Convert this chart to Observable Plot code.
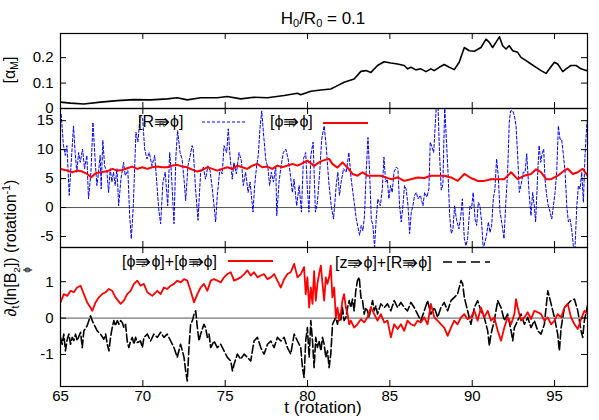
<!DOCTYPE html>
<html><head><meta charset="utf-8">
<script src="https://cdn.jsdelivr.net/npm/d3@7"></script>
<script src="https://cdn.jsdelivr.net/npm/@observablehq/plot@0.6"></script>
<style>
body{margin:0;background:#fff;}
#fig{position:relative;width:599px;height:420px;font-family:"Liberation Sans",Arial,sans-serif;color:#000;overflow:hidden;background:#fff}
#fig svg.panel{position:absolute;left:0;overflow:visible}
.lbl{position:absolute;white-space:nowrap;line-height:1}
.rot{transform:translate(-50%,-50%) rotate(-90deg)}
.ar{position:relative;display:inline-block;font-size:1.2em;line-height:1;vertical-align:-0.05em}
.sb{position:absolute;left:0;right:0;text-align:center;top:0.92em;font-size:9px;line-height:1;color:#333}
.key{position:absolute}
.ss{display:inline-flex;flex-direction:column;font-size:0.62em;line-height:1;vertical-align:-0.45em}
.sup{font-size:0.65em;vertical-align:0.55em}
.sub{font-size:0.65em;vertical-align:-0.3em}
</style></head><body><div id="fig"></div>
<script>
// ---------- data ----------
const xTicks = [65, 70, 75, 80, 85, 90, 95];
const yTicks1 = [0, 0.1, 0.2];
const yTicks2 = [-5, 0, 5, 10, 15];
const yTicks3 = [-1, 0, 1];

// panel 1: alpha_M
const alphaM = [
[65.00,0.025],[65.61,0.021],[66.42,0.018],[67.43,0.025],[68.45,0.031],[69.46,0.035],[70.47,0.034],[71.49,0.038],[72.09,0.042],[72.70,0.034],[73.51,0.042],[74.53,0.042],[75.13,0.047],[75.94,0.038],[76.75,0.044],[77.57,0.042],[78.58,0.051],[79.39,0.060],
[79.59,0.054],[80.20,0.068],[80.81,0.073],[81.41,0.077],[81.82,0.090],[82.22,0.103],[82.83,0.116],[83.24,0.146],[83.54,0.149],[83.85,0.142],[84.25,0.169],[84.65,0.184],[85.06,0.179],[85.47,0.175],[85.87,0.169],[86.08,0.156],[86.28,0.162],[86.58,0.152],[86.88,0.156],[87.19,0.145],[87.49,0.156],[87.69,0.149],[88.00,0.162],[88.30,0.173],[88.61,0.162],[88.91,0.153],[89.21,0.182],[89.52,0.240],[89.82,0.227],[90.13,0.225],[90.53,0.240],[90.84,0.273],[91.04,0.260],[91.24,0.240],[91.44,0.260],[91.65,0.282],[91.85,0.247],[92.05,0.234],[92.25,0.247],[92.46,0.227],[92.76,0.221],[92.96,0.201],[93.27,0.188],[93.57,0.175],[93.88,0.162],[94.18,0.149],[94.48,0.138],[94.69,0.156],[94.99,0.182],[95.19,0.175],[95.50,0.145],[95.70,0.156],[96.00,0.169],[96.31,0.169],[96.61,0.156],[96.91,0.149],[97.00,0.151]
];

// panel 2: [R =>_R phi] (blue dashed)
const rToPhiR = [
[65.04,16.1],[65.18,10.7],[65.29,9.0],[65.39,10.7],[65.53,2.1],[65.65,7.8],[65.79,14.1],[65.89,9.5],[65.99,6.1],[66.10,9.5],[66.20,7.8],[66.34,10.1],[66.46,6.7],[66.60,9.0],[66.70,1.5],[66.85,6.1],[66.97,14.7],[67.11,7.8],[67.21,3.8],[67.31,6.1],[67.41,9.0],[67.47,3.2],[67.57,11.6],[67.68,7.2],[67.82,6.1],[67.92,2.6],[68.02,6.7],[68.12,4.4],[68.22,6.1],[68.32,3.8],[68.43,6.7],[68.53,0.3],[68.67,4.9],[68.83,7.8],[68.93,5.5],[69.09,6.4],[69.20,-1.4],[69.30,-5.4],[69.42,0.3],[69.58,13.0],[69.70,11.3],[69.84,15.9],[69.99,15.3],[70.11,10.1],[70.25,8.4],[70.39,9.5],[70.55,7.2],[70.72,9.0],[70.86,3.8],[70.96,-0.2],[71.08,-2.8],[71.22,4.4],[71.36,6.1],[71.51,0.3],[71.63,9.5],[71.73,6.1],[71.89,-2.8],[72.01,9.0],[72.11,13.3],[72.26,9.5],[72.38,8.4],[72.50,4.9],[72.60,1.2],[72.74,7.2],[72.88,9.0],[72.99,10.7],
[73.06,10.1],[73.20,3.2],[73.35,-2.2],[73.51,6.1],[73.67,7.0],[73.81,4.9],[73.95,7.2],[74.08,6.4],[74.22,3.2],[74.42,-2.5],[74.52,2.1],[74.68,6.7],[74.82,5.8],[74.93,10.7],[75.09,9.5],[75.19,13.6],[75.29,9.0],[75.43,4.9],[75.53,7.8],[75.68,5.8],[75.84,9.5],[75.98,8.1],[76.10,3.8],[76.24,6.1],[76.39,2.6],[76.51,4.4],[76.61,1.5],[76.69,-0.8],[76.79,3.8],[76.91,7.2],[77.01,9.0],[77.11,13.6],[77.22,16.7],[77.32,13.0],[77.46,8.4],[77.60,6.7],[77.70,3.8],[77.80,6.1],[77.93,4.4],[78.07,7.2],[78.13,-1.4],[78.27,4.4],[78.37,6.7],[78.53,9.5],[78.68,10.1],[78.82,8.4],[78.94,6.1],[79.08,2.6],[79.18,4.9],[79.34,0.3],[79.49,3.8],[79.63,-0.8],[79.75,8.4],[79.89,9.5],[79.99,3.2],[80.09,-0.8],[80.20,9.0],[80.34,11.3],[80.48,-0.8],[80.60,0.9],[80.74,6.1],[80.86,11.8],[81.01,14.1],
[81.13,10.7],[81.29,4.4],[81.44,0.3],[81.58,-2.0],[81.74,3.8],[81.84,6.1],[81.94,2.1],[82.04,4.4],[82.19,6.7],[82.35,6.1],[82.51,9.5],[82.65,4.9],[82.86,0.3],[82.96,-2.0],[83.16,-4.8],[83.26,-3.1],[83.36,-4.0],[83.46,-1.4],[83.56,6.1],[83.67,12.1],[83.77,6.1],[83.87,-2.0],[83.97,-3.1],[84.07,-6.8],[84.17,-2.0],[84.27,1.5],[84.42,0.3],[84.54,3.2],[84.64,8.7],[84.74,4.4],[84.84,4.9],[84.94,1.5],[85.04,3.8],[85.14,2.6],[85.25,6.1],[85.39,7.0],[85.49,6.7],[85.59,0.3],[85.69,-2.5],[85.79,0.3],[85.89,3.8],[85.99,3.2],[86.10,0.3],[86.20,-4.5],[86.30,-0.8],[86.40,0.3],[86.50,2.1],[86.60,2.6],[86.71,1.5],[86.85,2.1],[87.01,0.3],[87.11,2.6],[87.25,1.8],[87.37,3.2],[87.45,11.3],[87.56,10.4],[87.66,9.5],[87.82,17.5],[87.92,17.6],[88.02,9.0],[88.12,3.0],[88.22,4.0],[88.33,17.5],[88.43,11.8],[88.53,6.1],[88.63,-1.4],[88.73,-4.5],[88.83,-3.7],[88.93,0.3],[89.04,-2.0],
[89.19,-3.7],[89.31,-1.4],[89.40,1.5],[89.52,-5.4],[89.62,-6.6],[89.72,-5.4],[89.86,0.3],[89.96,-0.2],[90.06,2.6],[90.17,-2.0],[90.27,-3.1],[90.37,0.9],[90.47,0.3],[90.57,-2.5],[90.67,-7.1],[90.77,-6.0],[90.87,-4.8],[90.98,-2.5],[91.08,-4.3],[91.18,-3.1],[91.28,1.5],[91.38,3.2],[91.48,8.4],[91.58,5.5],[91.69,-0.8],[91.79,-2.5],[91.93,-5.4],[92.03,0.3],[92.15,6.1],[92.25,14.7],[92.33,16.7],[92.46,16.7],[92.56,15.9],[92.66,14.1],[92.76,9.0],[92.86,2.6],[93.00,4.4],[93.10,6.1],[93.21,6.1],[93.31,9.3],[93.45,2.6],[93.57,-1.4],[93.67,2.6],[93.77,0.3],[93.85,-2.5],[93.98,6.1],[94.06,10.7],[94.16,7.8],[94.26,9.5],[94.34,10.1],[94.42,4.9],[94.52,2.1],[94.62,0.3],[94.73,-0.8],[94.83,-2.0],[94.93,0.3],[95.03,2.6],[95.13,6.1],[95.23,14.1],[95.33,11.8],[95.43,11.8],[95.54,9.0],[95.64,6.1],[95.74,0.3],[95.84,-2.5],[95.94,-2.0],[96.04,-3.7],[96.14,-6.6],[96.24,-7.1],[96.35,0.3],[96.45,3.8],[96.55,3.2],[96.65,6.1],[96.75,0.9],[96.85,9.0],[96.95,14.1],[97.06,16.4]
];

// panel 2: [phi =>_R phi] (red)
const phiToPhiR = [
[65.00,6.67],[65.41,6.38],[65.71,6.09],[66.02,6.38],[66.32,6.21],[66.62,5.80],[66.87,5.23],[67.13,5.92],[67.43,6.09],[67.84,6.26],[68.15,6.67],[68.45,6.38],[68.75,6.49],[69.05,6.78],[69.36,7.07],[69.66,6.67],[69.97,6.95],[70.27,6.67],[70.57,6.95],[70.88,7.07],[71.18,6.95],[71.49,6.95],[71.79,7.24],[72.09,7.36],[72.40,7.07],[72.70,6.95],[73.00,6.55],[73.31,6.21],[73.61,6.49],[73.91,6.95],[74.22,6.67],[74.52,6.38],[74.82,6.67],[75.13,6.95],[75.43,6.67],[75.74,7.24],[76.04,6.95],[76.34,6.67],[76.65,7.24],[76.95,7.53],[77.25,6.95],[77.56,7.07],[77.86,6.67],[78.17,7.24],[78.47,6.95],[78.77,7.24],[79.08,7.53],[79.38,7.24],
[79.59,7.5],[79.99,8.1],[80.40,7.2],[80.70,7.8],[80.91,8.1],[81.31,8.4],[81.52,7.5],[81.82,6.9],[82.12,7.8],[82.43,6.9],[82.73,5.8],[83.04,5.5],[83.34,6.1],[83.64,5.5],[84.05,5.5],[84.45,5.5],[84.76,5.2],[85.06,4.9],[85.47,5.2],[85.87,4.6],[86.28,4.9],[86.68,5.2],[87.09,5.1],[87.49,5.5],[87.90,5.5],[88.30,5.5],[88.71,5.2],[89.12,4.6],[89.52,5.8],[89.92,5.1],[90.33,4.6],[90.73,4.6],[91.14,4.9],[91.55,4.9],[91.95,4.9],[92.36,6.1],[92.76,4.9],[93.16,5.5],[93.57,5.8],[93.88,6.6],[94.18,6.1],[94.48,4.9],[94.79,4.9],[95.19,5.5],[95.60,6.4],[95.80,6.7],[96.11,5.8],[96.41,6.1],[96.71,6.7],[97.00,5.5]
];

// panel 3: [phi =>_z phi]+[phi =>_R phi] (red)
const phiSum = [
[65.00,0.43],[65.20,0.66],[65.41,0.61],[65.61,0.75],[65.81,0.71],[66.01,0.84],[66.22,0.89],[66.42,0.66],[66.62,0.43],[66.82,0.29],[66.93,0.20],[67.13,0.43],[67.33,0.57],[67.53,0.66],[67.74,0.71],[67.94,0.80],[68.14,0.75],[68.34,0.57],[68.65,0.39],[68.85,0.48],[69.05,0.66],[69.26,0.75],[69.46,0.94],[69.66,1.03],[69.86,0.89],[70.06,0.94],[70.27,0.71],[70.57,0.61],[70.88,0.75],[71.08,0.66],[71.28,0.84],[71.49,0.80],[71.69,0.89],[71.89,0.94],[72.09,1.03],[72.30,0.98],[72.50,1.07],[72.70,1.03],[72.90,0.75],[73.11,0.43],[73.31,0.66],[73.51,0.84],[73.71,0.94],[73.92,0.75],[74.12,1.03],[74.32,1.07],[74.53,1.03],[74.73,0.98],[74.93,1.12],[75.13,1.21],[75.34,1.26],[75.54,1.03],[75.74,1.07],[75.94,1.12],[76.15,1.21],[76.35,1.31],[76.55,1.17],[76.75,1.26],[76.96,1.12],[77.16,1.17],[77.36,1.21],[77.57,1.07],[77.77,1.12],[77.97,1.21],[78.17,1.03],[78.38,0.84],[78.58,1.07],[78.78,1.21],[78.98,1.26],[79.19,1.49],[79.39,1.12],
[79.59,1.21],[79.79,1.40],[79.89,0.66],[79.99,1.12],[80.10,0.29],[80.20,0.84],[80.30,0.39],[80.40,1.29],[80.50,0.48],[80.60,0.94],[80.70,1.21],[80.81,1.44],[80.91,0.94],[81.01,0.48],[81.11,1.12],[81.21,0.94],[81.31,1.12],[81.41,1.44],[81.51,0.57],[81.62,0.84],[81.72,0.02],[81.82,0.29],[81.92,-0.07],[82.02,0.11],[82.12,0.48],[82.22,0.66],[82.33,0.29],[82.43,0.11],[82.53,-0.17],[82.63,-0.07],[82.83,-0.26],[83.03,-0.17],[83.24,-0.03],[83.44,-0.12],[83.64,0.02],[83.85,0.29],[84.05,0.11],[84.25,-0.07],[84.45,0.11],[84.66,-0.12],[84.86,-0.07],[85.06,-0.53],[85.26,-0.17],[85.47,-0.30],[85.67,-0.17],[85.87,-0.35],[86.07,-0.07],[86.28,-0.17],[86.48,-0.21],[86.68,-0.07],[86.88,-0.12],[87.09,0.02],[87.29,-0.17],[87.49,0.39],[87.70,0.02],[87.90,-0.07],[88.10,-0.17],[88.30,-0.26],[88.51,-0.49],[88.71,-0.26],[88.91,-0.07],[89.11,-0.17],[89.32,0.02],[89.52,0.11],[89.72,-0.03],[89.92,0.02],[90.13,0.20],[90.33,-0.07],[90.53,0.29],[90.73,0.02],[90.94,0.20],[91.14,-0.07],[91.34,0.02],[91.55,-0.35],[91.75,-0.62],[91.95,-0.26],[92.15,0.02],[92.36,-0.17],[92.56,0.11],[92.66,0.52],[92.76,0.29],[92.96,-0.07],[93.17,0.02],[93.37,0.16],[93.57,-0.03],[93.77,0.20],[93.98,0.16],[94.18,0.11],[94.38,-0.07],[94.59,0.02],[94.79,-0.17],[94.99,-0.07],[95.19,0.11],[95.40,0.02],[95.60,0.29],[95.80,0.39],[96.00,0.02],[96.21,-0.17],[96.41,-0.30],[96.61,-0.03],[96.81,0.20],[97.02,0.11]
];

// panel 3: [z =>_z phi]+[R =>_R phi] (black dashed)
const zrSum = [
[65.00,-0.53],[65.10,-0.72],[65.20,-0.44],[65.30,-0.90],[65.41,-0.58],[65.51,-0.44],[65.61,-0.72],[65.71,-0.53],[65.81,-0.62],[65.91,-0.44],[66.01,-0.62],[66.22,-0.39],[66.32,-0.81],[66.42,-0.35],[66.62,-0.21],[66.72,-0.07],[66.82,0.06],[66.93,-0.07],[67.03,-0.17],[67.13,-0.26],[67.23,-0.35],[67.43,-0.44],[67.63,-0.58],[67.74,-0.44],[67.84,-0.72],[67.94,-0.90],[68.04,-0.53],[68.14,-0.26],[68.24,-0.07],[68.34,-0.21],[68.45,-0.07],[68.55,-0.17],[68.65,-0.07],[68.75,-0.12],[68.85,-0.26],[68.95,-0.17],[69.05,-0.63],[69.15,-0.81],[69.26,-0.63],[69.36,-0.53],[69.46,-0.72],[69.56,-0.53],[69.66,-0.67],[69.86,-0.63],[69.97,-0.81],[70.07,-0.53],[70.27,-0.44],[70.47,-0.63],[70.67,-0.44],[70.88,-0.53],[71.08,-0.39],[71.28,-0.53],[71.48,-0.44],[71.69,-0.63],[71.89,-0.81],[72.09,-1.08],[72.29,-0.72],[72.40,-0.90],[72.50,-1.08],[72.60,-1.45],[72.70,-1.73],[72.80,-0.81],[72.90,-0.17],[73.01,-0.07],[73.11,0.11],[73.21,0.20],[73.31,-0.26],[73.41,-0.63],[73.51,-0.44],[73.71,-0.17],[73.81,-0.26],[73.92,-0.53],[74.02,-0.44],[74.12,-0.81],[74.32,-0.63],[74.52,-0.81],[74.73,-0.72],[74.93,-0.90],[75.13,-1.08],[75.34,-1.18],[75.44,-1.45],[75.54,-1.27],[75.74,-0.99],[75.94,-1.13],[76.15,-0.99],[76.35,-1.08],[76.55,-1.18],[76.75,-0.63],[76.96,-0.53],[77.16,-0.81],[77.36,-0.99],[77.57,-0.72],[77.77,-0.63],[77.97,-0.81],[78.17,-0.53],[78.38,-0.63],[78.58,-0.53],[78.78,-0.81],[78.98,-0.99],[79.19,-0.44],[79.39,-0.63],
[79.59,-0.81],[79.69,-1.36],[79.79,-1.63],[79.89,-0.62],[79.99,-0.26],[80.10,-1.08],[80.20,-0.07],[80.30,-0.62],[80.40,-1.36],[80.50,-0.53],[80.60,-0.81],[80.70,-0.62],[80.81,-0.90],[80.91,-0.53],[81.01,-0.72],[81.11,-1.08],[81.21,-0.90],[81.31,-1.36],[81.41,-0.99],[81.52,-0.17],[81.62,-0.07],[81.72,0.02],[81.82,-0.17],[81.92,0.11],[82.02,-0.07],[82.12,0.29],[82.22,-0.07],[82.33,0.02],[82.43,0.29],[82.53,0.48],[82.63,0.29],[82.73,0.52],[82.83,0.20],[82.93,0.75],[83.03,1.03],[83.14,1.12],[83.24,0.57],[83.34,0.48],[83.44,0.11],[83.54,0.29],[83.64,0.20],[83.74,0.02],[83.85,0.29],[83.95,0.48],[84.05,0.20],[84.15,0.34],[84.25,0.11],[84.45,0.39],[84.66,0.29],[84.86,0.39],[85.06,0.20],[85.26,0.48],[85.47,0.29],[85.67,0.43],[85.87,0.29],[86.07,0.20],[86.28,0.43],[86.48,0.29],[86.68,0.11],[86.88,-0.07],[87.09,0.20],[87.29,0.48],[87.49,0.11],[87.70,0.29],[87.90,0.02],[88.10,0.29],[88.30,0.43],[88.51,0.20],[88.71,0.48],[88.91,0.57],[89.11,0.66],[89.32,1.03],[89.42,0.94],[89.52,0.57],[89.72,0.20],[89.92,-0.17],[90.13,0.29],[90.33,0.48],[90.53,0.20],[90.73,0.02],[90.94,-0.35],[91.04,-0.76],[91.14,-0.44],[91.34,-0.07],[91.55,0.48],[91.75,0.29],[91.95,-0.07],[92.15,0.11],[92.36,-0.35],[92.46,-0.62],[92.56,-0.26],[92.76,-0.07],[92.96,0.11],[93.17,-0.17],[93.37,0.02],[93.57,-0.26],[93.77,-0.07],[93.98,-0.35],[94.18,-0.44],[94.38,-0.17],[94.59,0.75],[94.79,0.39],[94.99,0.02],[95.19,-0.44],[95.29,-0.90],[95.40,-0.26],[95.60,0.29],[95.80,0.39],[96.00,0.48],[96.21,0.52],[96.41,0.20],[96.61,-0.35],[96.71,-0.53],[96.81,-0.07],[97.02,0.39]
];

// ---------- layout ----------
const W = 599, ML = 60, MR = 12, innerW = W - ML - MR;
const FONT = '"Liberation Sans", Arial, sans-serif';
const rows = d => d.map(([t, v]) => ({t, v}));
const fig = document.getElementById("fig");

function frameTicks(yt, innerH) {
  return [
    Plot.tickY(yt, {y: d => d, insetRight: innerW - 6, stroke: "#000"}),
    Plot.tickY(yt, {y: d => d, insetLeft: innerW - 6, stroke: "#000"}),
    Plot.tickX(xTicks, {x: d => d, insetBottom: innerH - 6, stroke: "#000"}),
    Plot.tickX(xTicks, {x: d => d, insetTop: innerH - 6, stroke: "#000"})
  ];
}
function yAxis(yt) {
  return Plot.axisY(yt, {anchor: "left", tickSize: 0, tickPadding: 7, tickFormat: d => String(d), label: null, fontSize: 15});
}
function place(svg, top) {
  svg.classList.add("panel");
  svg.style.top = top + "px";
  fig.appendChild(svg);
}
const style = {fontFamily: FONT, fontSize: "15px", background: "transparent", overflow: "visible", color: "#000"};

// panel 1
const h1 = 108, mt1 = 33;
place(Plot.plot({
  width: W, height: h1, marginLeft: ML, marginRight: MR, marginTop: mt1, marginBottom: 0, style,
  x: {domain: [65, 97], axis: null},
  y: {domain: [0, 0.295], axis: null},
  marks: [
    Plot.line(rows(alphaM), {x: "t", y: "v", stroke: "#000", strokeWidth: 1.6, clip: true}),
    ...frameTicks(yTicks1, h1 - mt1),
    yAxis(yTicks1),
    Plot.frame({stroke: "#000", strokeWidth: 1.2})
  ]
}), 0);

// panel 2
const h2 = 139;
place(Plot.plot({
  width: W, height: h2, marginLeft: ML, marginRight: MR, marginTop: 0, marginBottom: 0, style,
  x: {domain: [65, 97], axis: null},
  y: {domain: [-6.9, 17.1], axis: null},
  marks: [
    Plot.ruleY([0], {stroke: "#555", strokeWidth: 1}),
    Plot.line(rows(rToPhiR), {x: "t", y: "v", stroke: "#0000ff", strokeWidth: 1, strokeDasharray: "3,2", clip: true}),
    Plot.line(rows(phiToPhiR), {x: "t", y: "v", stroke: "#ff0000", strokeWidth: 2, clip: true}),
    ...frameTicks(yTicks2, h2),
    yAxis(yTicks2),
    Plot.frame({stroke: "#000", strokeWidth: 1.2})
  ]
}), 108);

// panel 3
const h3 = 173, mb3 = 34;
place(Plot.plot({
  width: W, height: h3, marginLeft: ML, marginRight: MR, marginTop: 0, marginBottom: mb3, style,
  x: {domain: [65, 97]},
  y: {domain: [-1.88, 1.94], axis: null},
  marks: [
    Plot.ruleY([0], {stroke: "#555", strokeWidth: 1}),
    Plot.line(rows(zrSum), {x: "t", y: "v", stroke: "#000", strokeWidth: 1.6, strokeDasharray: "8,3", clip: true}),
    Plot.line(rows(phiSum), {x: "t", y: "v", stroke: "#ff0000", strokeWidth: 1.8, clip: true}),
    ...frameTicks(yTicks3, h3 - mb3),
    yAxis(yTicks3),
    Plot.axisX(xTicks, {anchor: "bottom", tickSize: 0, tickPadding: 4, tickFormat: d => String(d), label: null, fontSize: 15}),
    Plot.frame({stroke: "#000", strokeWidth: 1.2})
  ]
}), 247);

// ---------- text overlays ----------
function addHTML(html, css) {
  const d = document.createElement("div");
  d.className = "lbl";
  d.innerHTML = html;
  Object.assign(d.style, css);
  fig.appendChild(d);
  return d;
}
function addKey(left, top, len, stroke, dash, sw) {
  const ns = "http://www.w3.org/2000/svg";
  const s = document.createElementNS(ns, "svg");
  s.setAttribute("class", "key");
  s.setAttribute("width", len); s.setAttribute("height", 4);
  s.style.left = left + "px"; s.style.top = (top - 2) + "px";
  const l = document.createElementNS(ns, "line");
  l.setAttribute("x1", 0); l.setAttribute("x2", len); l.setAttribute("y1", 2); l.setAttribute("y2", 2);
  l.setAttribute("stroke", stroke); l.setAttribute("stroke-width", sw);
  if (dash) l.setAttribute("stroke-dasharray", dash);
  s.appendChild(l);
  fig.appendChild(s);
}
const arr = s => `<span class="ar">\u21DB<span class="sb">${s}</span></span>`;
const PHI = "\u03D5";

addHTML(`H<span class="sub">0</span>/R<span class="sub">0</span> = 0.1`, {left: "323px", top: "10px", fontSize: "17px", transform: "translateX(-50%)"});
addHTML(`t (rotation)`, {left: "323px", top: "399px", fontSize: "17px", transform: "translateX(-50%)"});
addHTML(`[\u03B1<span class="sub">M</span>]`, {left: "11px", top: "70px", fontSize: "16px"}).classList.add("rot");
addHTML(`\u2202<span class="sub">t</span>(ln[B<span class="ss"><span>2</span><span>${PHI}</span></span>]) (rotation<span class="sup">-1</span>)`, {left: "17px", top: "248px", fontSize: "16px"}).classList.add("rot");

addHTML(`[R${arr("R")}${PHI}]`, {left: "138px", top: "112px", fontSize: "16px"});
addKey(202, 122, 45, "#0000ff", "3,2", 1);
addHTML(`[${PHI}${arr("R")}${PHI}]`, {left: "270px", top: "112px", fontSize: "16px"});
addKey(323, 123, 45, "#ff0000", null, 2);
addHTML(`[${PHI}${arr("z")}${PHI}]+[${PHI}${arr("R")}${PHI}]`, {left: "122px", top: "252px", fontSize: "16px"});
addKey(228, 261, 45, "#ff0000", null, 2);
addHTML(`[z${arr("z")}${PHI}]+[R${arr("R")}${PHI}]`, {left: "335px", top: "253px", fontSize: "16px"});
addKey(443, 262, 47, "#000", "9,5", 1.6);
</script></body></html>
